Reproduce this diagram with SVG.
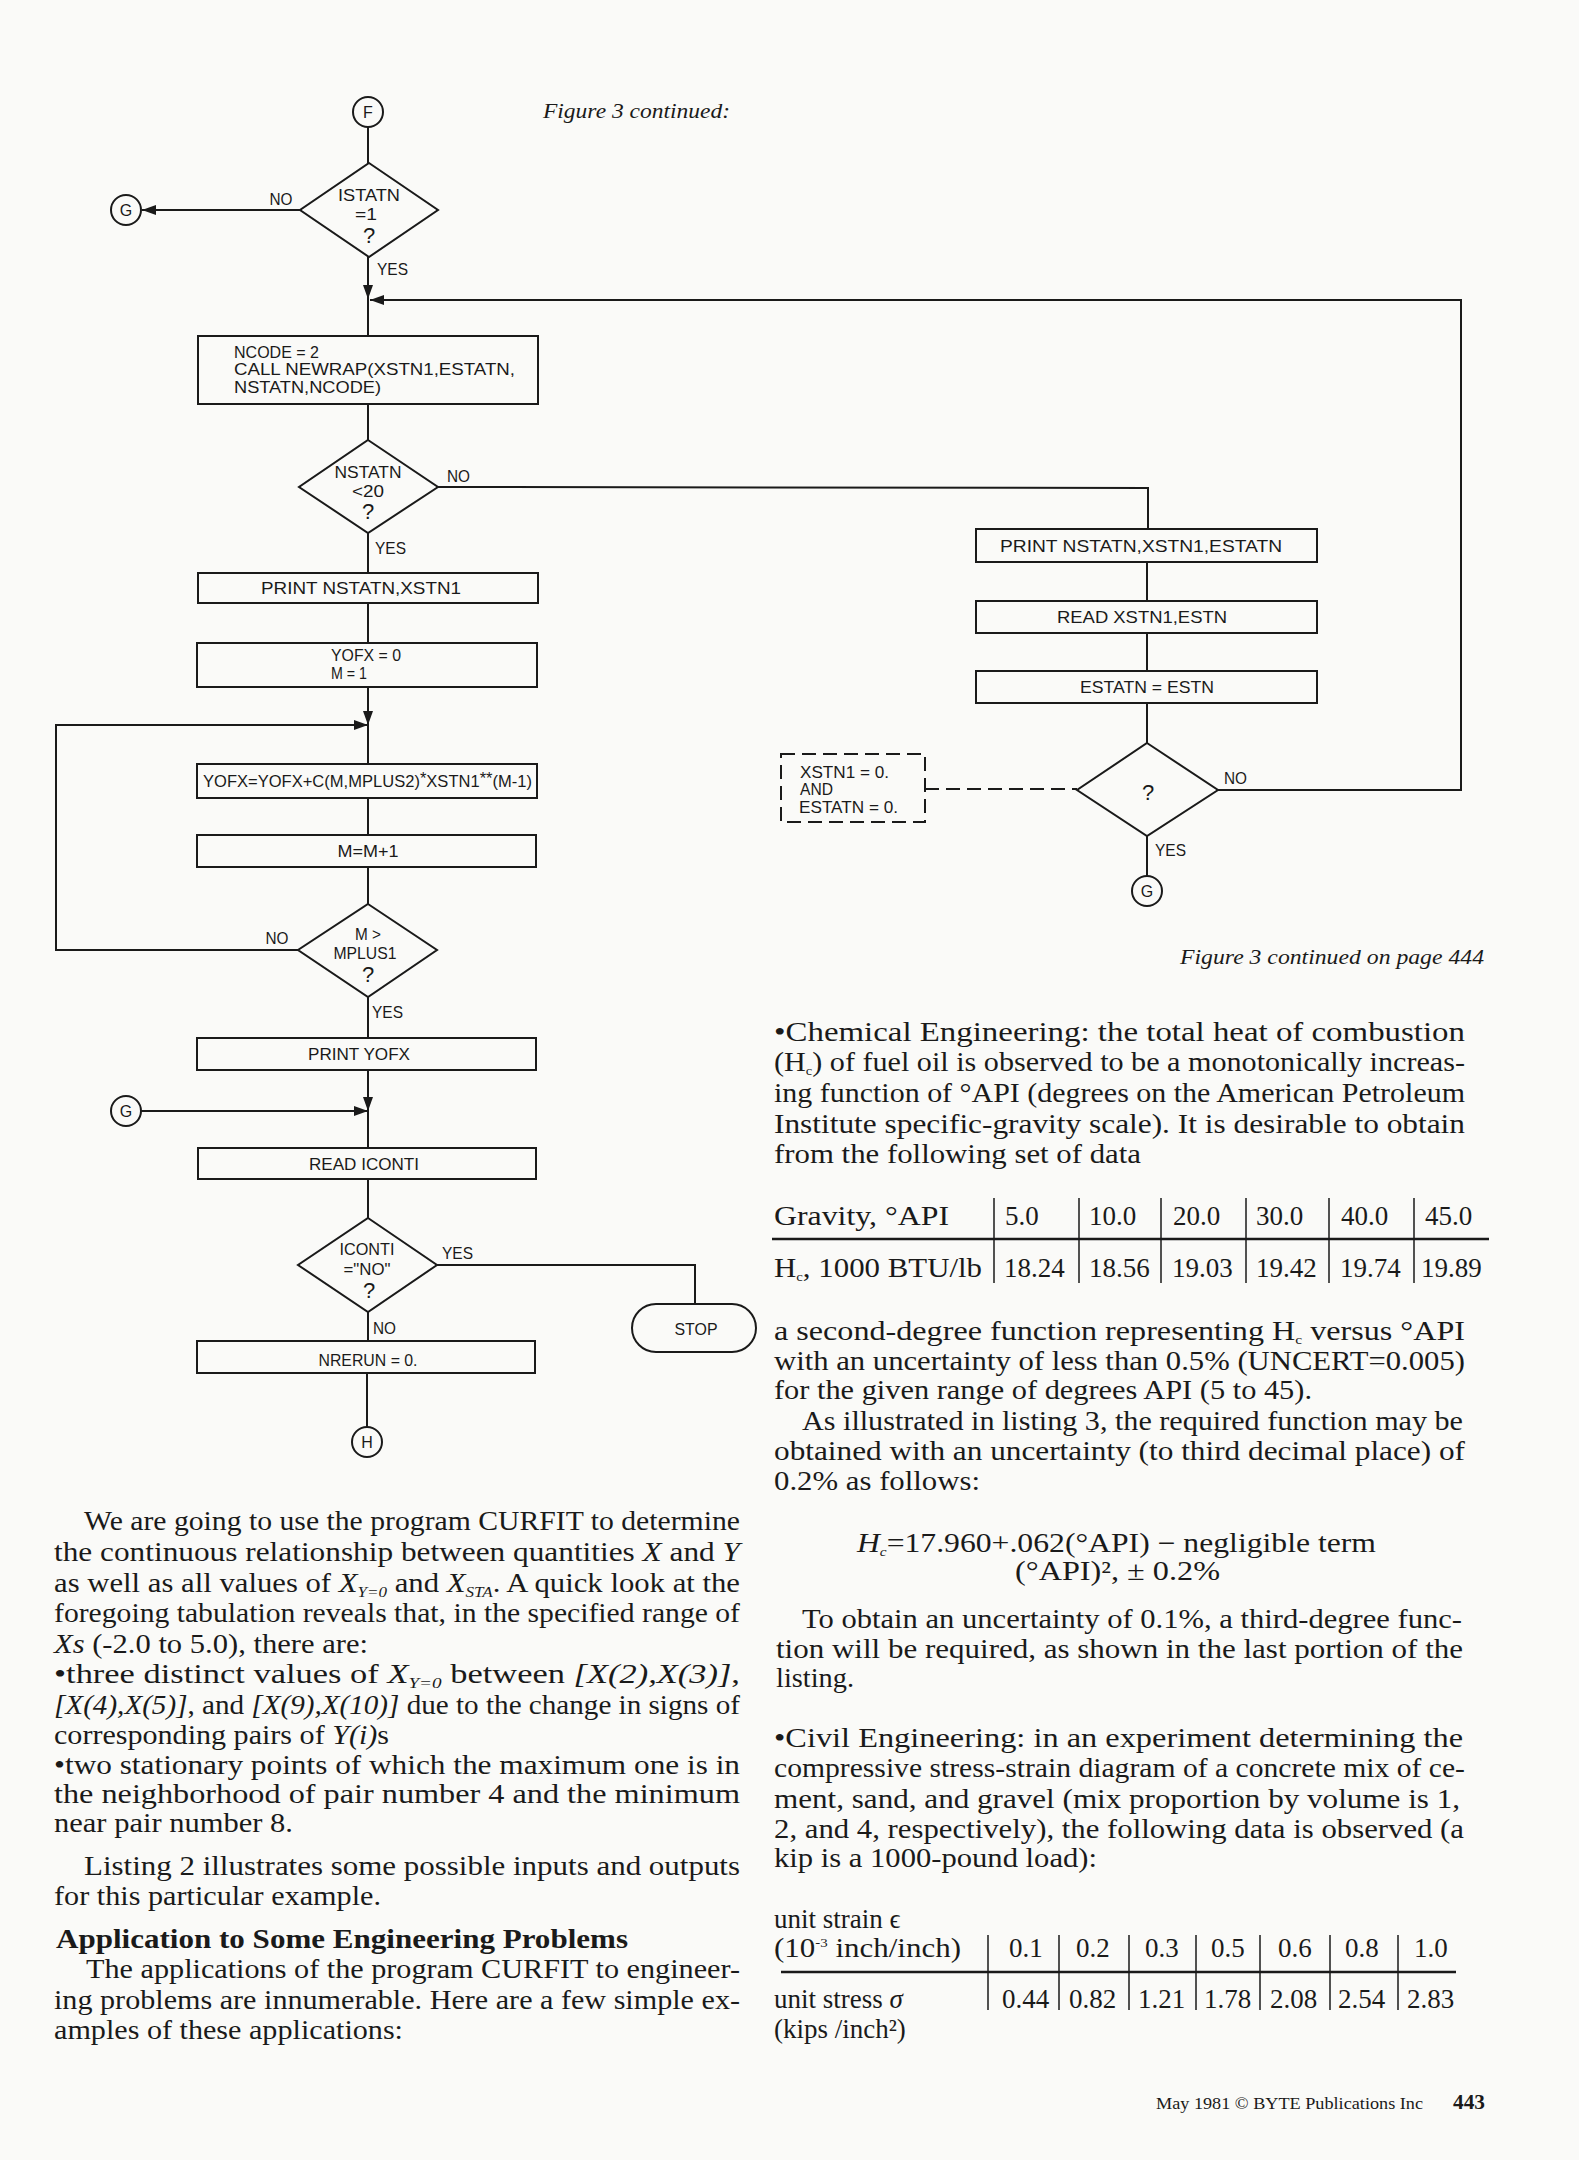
<svg xmlns="http://www.w3.org/2000/svg" width="1579" height="2160" viewBox="0 0 1579 2160">
<defs>
<style>
.fc{font-family:"Liberation Sans",Arial,sans-serif;font-size:17px;fill:#1a1a1a}
.q{font-family:"Liberation Sans",Arial,sans-serif;font-size:22px;fill:#1a1a1a;text-anchor:middle}
.cl{font-family:"Liberation Sans",Arial,sans-serif;font-size:16px;fill:#1a1a1a;text-anchor:middle}
.m{text-anchor:middle}
.ln{stroke:#1a1a1a;stroke-width:2;fill:none}
.bx{fill:none;stroke:#1a1a1a;stroke-width:2}
.b{font-family:"Liberation Serif","Times New Roman",serif;font-size:27px;fill:#1a1a1a}
.it{font-style:italic}
.cap{font-family:"Liberation Serif","Times New Roman",serif;font-style:italic;font-size:21px;fill:#1a1a1a}
</style>
<marker id="ah" viewBox="0 0 14 10" refX="14" refY="5" markerWidth="14" markerHeight="10" markerUnits="userSpaceOnUse" orient="auto"><path d="M0,0 L14,5 L0,10 z" fill="#1a1a1a"/></marker>
</defs>
<rect x="0" y="0" width="1579" height="2160" fill="#fafaf8"/>

<text class="cap" x="543" y="118" textLength="187" lengthAdjust="spacingAndGlyphs">Figure 3 continued:</text>
<text class="cap" x="1180" y="964" textLength="304" lengthAdjust="spacingAndGlyphs">Figure 3 continued on page 444</text>

<g id="connectors">
<line class="ln" x1="368" y1="127" x2="368" y2="163"/>
<line class="ln" x1="300" y1="210" x2="142" y2="210" marker-end="url(#ah)"/>
<line class="ln" x1="368" y1="257" x2="368" y2="299" marker-end="url(#ah)"/>
<polyline class="ln" points="1218,790 1461,790 1461,300 370,300" marker-end="url(#ah)"/>
<line class="ln" x1="368" y1="299" x2="368" y2="336"/>
<line class="ln" x1="368" y1="404" x2="368" y2="440"/>
<polyline class="ln" points="438,487 1148,488 1148,529"/>
<line class="ln" x1="368" y1="533" x2="368" y2="573"/>
<line class="ln" x1="368" y1="603" x2="368" y2="643"/>
<line class="ln" x1="368" y1="687" x2="368" y2="725" marker-end="url(#ah)"/>
<polyline class="ln" points="298,950 56,950 56,725 368,725" marker-end="url(#ah)"/>
<line class="ln" x1="368" y1="725" x2="368" y2="765"/>
<line class="ln" x1="368" y1="797" x2="368" y2="835"/>
<line class="ln" x1="368" y1="867" x2="368" y2="904"/>
<line class="ln" x1="368" y1="997" x2="368" y2="1038"/>
<line class="ln" x1="368" y1="1070" x2="368" y2="1111" marker-end="url(#ah)"/>
<line class="ln" x1="141" y1="1111" x2="368" y2="1111" marker-end="url(#ah)"/>
<line class="ln" x1="368" y1="1111" x2="368" y2="1148"/>
<line class="ln" x1="368" y1="1179" x2="368" y2="1218"/>
<polyline class="ln" points="437,1265 695,1265 695,1304"/>
<line class="ln" x1="368" y1="1312" x2="368" y2="1341"/>
<line class="ln" x1="367" y1="1373" x2="367" y2="1427"/>
<line class="ln" x1="1147" y1="562" x2="1147" y2="601"/>
<line class="ln" x1="1147" y1="633" x2="1147" y2="671"/>
<line class="ln" x1="1147" y1="703" x2="1147" y2="743"/>
<line class="ln" x1="1147" y1="836" x2="1147" y2="876"/>
<line class="ln" x1="925" y1="789" x2="1077" y2="789" stroke-dasharray="14 7"/>
</g>

<g id="labels">
<text class="fc m" x="281" y="205" textLength="23" lengthAdjust="spacingAndGlyphs">NO</text>
<text class="fc" x="377" y="275" textLength="31" lengthAdjust="spacingAndGlyphs">YES</text>
<text class="fc" x="447" y="482" textLength="23" lengthAdjust="spacingAndGlyphs">NO</text>
<text class="fc" x="375" y="554" textLength="31" lengthAdjust="spacingAndGlyphs">YES</text>
<text class="fc m" x="277" y="944" textLength="23" lengthAdjust="spacingAndGlyphs">NO</text>
<text class="fc" x="372" y="1018" textLength="31" lengthAdjust="spacingAndGlyphs">YES</text>
<text class="fc" x="442" y="1259" textLength="31" lengthAdjust="spacingAndGlyphs">YES</text>
<text class="fc" x="373" y="1334" textLength="23" lengthAdjust="spacingAndGlyphs">NO</text>
<text class="fc" x="1224" y="784" textLength="23" lengthAdjust="spacingAndGlyphs">NO</text>
<text class="fc" x="1155" y="856" textLength="31" lengthAdjust="spacingAndGlyphs">YES</text>
</g>

<g id="F"><circle class="bx" cx="368" cy="112" r="15"/><text class="cl" x="368" y="118">F</text></g>
<g id="istatn"><polygon class="bx" points="369,163 438,210 369,257 300,210"/>
<text class="fc m" x="369" y="201" textLength="62" lengthAdjust="spacingAndGlyphs">ISTATN</text>
<text class="fc m" x="366" y="220" textLength="22" lengthAdjust="spacingAndGlyphs">=1</text>
<text class="q" x="369" y="243">?</text></g>
<g id="G1"><circle class="bx" cx="126" cy="210" r="15"/><text class="cl" x="126" y="216">G</text></g>
<g id="ncode"><rect class="bx" x="198" y="336" width="340" height="68"/>
<text class="fc" x="234" y="358" textLength="85" lengthAdjust="spacingAndGlyphs">NCODE = 2</text>
<text class="fc" x="234" y="375" textLength="281" lengthAdjust="spacingAndGlyphs">CALL NEWRAP(XSTN1,ESTATN,</text>
<text class="fc" x="234" y="393" textLength="147" lengthAdjust="spacingAndGlyphs">NSTATN,NCODE)</text></g>
<g id="nstatn"><polygon class="bx" points="368,440 438,487 368,533 299,487"/>
<text class="fc m" x="368" y="478" textLength="67" lengthAdjust="spacingAndGlyphs">NSTATN</text>
<text class="fc m" x="368" y="497" textLength="32" lengthAdjust="spacingAndGlyphs">&lt;20</text>
<text class="q" x="368" y="519">?</text></g>
<g id="print1"><rect class="bx" x="198" y="573" width="340" height="30"/><text class="fc m" x="361" y="594" textLength="200" lengthAdjust="spacingAndGlyphs">PRINT NSTATN,XSTN1</text></g>
<g id="yofx0"><rect class="bx" x="197" y="643" width="340" height="44"/>
<text class="fc" x="331" y="661" textLength="70" lengthAdjust="spacingAndGlyphs">YOFX = 0</text>
<text class="fc" x="331" y="679" textLength="36" lengthAdjust="spacingAndGlyphs">M = 1</text></g>
<g id="yofxsum"><rect class="bx" x="197" y="764" width="340" height="34"/>
<text class="fc" x="203" y="787" dy="0 0 0 0 0 0 0 0 0 0 0 0 0 0 0 0 0 0 0 0 0 -3 3 0 0 0 0 -3 0 3" textLength="329" lengthAdjust="spacingAndGlyphs">YOFX=YOFX+C(M,MPLUS2)*XSTN1**(M-1)</text></g>
<g id="mplus"><rect class="bx" x="197" y="835" width="339" height="32"/><text class="fc m" x="368" y="857" textLength="61" lengthAdjust="spacingAndGlyphs">M=M+1</text></g>
<g id="mgt"><polygon class="bx" points="368,904 437,950 368,997 298,950"/>
<text class="fc m" x="368" y="940" textLength="26" lengthAdjust="spacingAndGlyphs">M &gt;</text>
<text class="fc m" x="365" y="959" textLength="63" lengthAdjust="spacingAndGlyphs">MPLUS1</text>
<text class="q" x="368" y="982">?</text></g>
<g id="printyofx"><rect class="bx" x="197" y="1038" width="339" height="32"/><text class="fc m" x="359" y="1060" textLength="102" lengthAdjust="spacingAndGlyphs">PRINT YOFX</text></g>
<g id="G2"><circle class="bx" cx="126" cy="1111" r="15"/><text class="cl" x="126" y="1117">G</text></g>
<g id="readiconti"><rect class="bx" x="198" y="1148" width="338" height="31"/><text class="fc m" x="364" y="1170" textLength="110" lengthAdjust="spacingAndGlyphs">READ ICONTI</text></g>
<g id="iconti"><polygon class="bx" points="368,1218 437,1265 368,1312 298,1265"/>
<text class="fc m" x="367" y="1255" textLength="55" lengthAdjust="spacingAndGlyphs">ICONTI</text>
<text class="fc m" x="367" y="1275" textLength="47" lengthAdjust="spacingAndGlyphs">="NO"</text>
<text class="q" x="369" y="1298">?</text></g>
<g id="stop"><rect class="bx" x="632" y="1304" width="124" height="48" rx="24" ry="24"/><text class="fc m" x="696" y="1335" textLength="43" lengthAdjust="spacingAndGlyphs">STOP</text></g>
<g id="nrerun"><rect class="bx" x="197" y="1341" width="338" height="32"/><text class="fc m" x="368" y="1366" textLength="99" lengthAdjust="spacingAndGlyphs">NRERUN = 0.</text></g>
<g id="H"><circle class="bx" cx="367" cy="1442" r="15"/><text class="cl" x="367" y="1448">H</text></g>

<g id="print3"><rect class="bx" x="976" y="529" width="341" height="33"/><text class="fc m" x="1141" y="552" textLength="282" lengthAdjust="spacingAndGlyphs">PRINT NSTATN,XSTN1,ESTATN</text></g>
<g id="readx"><rect class="bx" x="976" y="601" width="341" height="32"/><text class="fc m" x="1142" y="623" textLength="170" lengthAdjust="spacingAndGlyphs">READ XSTN1,ESTN</text></g>
<g id="estatn"><rect class="bx" x="976" y="671" width="341" height="32"/><text class="fc m" x="1147" y="693" textLength="134" lengthAdjust="spacingAndGlyphs">ESTATN = ESTN</text></g>
<g id="qdiamond"><polygon class="bx" points="1147,743 1218,790 1147,836 1077,790"/><text class="q" x="1148" y="800">?</text></g>
<g id="note"><rect class="bx" x="781" y="754" width="144" height="68" stroke-dasharray="14 7"/>
<text class="fc" x="800" y="778" textLength="89" lengthAdjust="spacingAndGlyphs">XSTN1 = 0.</text>
<text class="fc" x="800" y="795" textLength="33" lengthAdjust="spacingAndGlyphs">AND</text>
<text class="fc" x="799" y="813" textLength="99" lengthAdjust="spacingAndGlyphs">ESTATN = 0.</text></g>
<g id="G3"><circle class="bx" cx="1147" cy="891" r="15"/><text class="cl" x="1147" y="897">G</text></g>

<g id="leftcol" class="b">
<text x="84" y="1530" textLength="656" lengthAdjust="spacingAndGlyphs">We are going to use the program CURFIT to determine</text>
<text x="54" y="1561" textLength="686" lengthAdjust="spacingAndGlyphs">the continuous relationship between quantities <tspan class="it">X</tspan> and <tspan class="it">Y</tspan></text>
<text x="54" y="1592" textLength="686" lengthAdjust="spacingAndGlyphs">as well as all values of <tspan class="it">X</tspan><tspan class="it" font-size="15" dy="5">Y=0</tspan><tspan dy="-5"> and </tspan><tspan class="it">X</tspan><tspan class="it" font-size="15" dy="5">STA</tspan><tspan dy="-5">. A quick look at the</tspan></text>
<text x="54" y="1622" textLength="686" lengthAdjust="spacingAndGlyphs">foregoing tabulation reveals that, in the specified range of</text>
<text x="54" y="1653" textLength="314" lengthAdjust="spacingAndGlyphs"><tspan class="it">Xs</tspan> (-2.0 to 5.0), there are:</text>
<text x="54" y="1683" textLength="686" lengthAdjust="spacingAndGlyphs">•three distinct values of <tspan class="it">X</tspan><tspan class="it" font-size="15" dy="5">Y=0</tspan><tspan dy="-5"> between </tspan><tspan class="it">[X(2),X(3)]</tspan>,</text>
<text x="54" y="1714" textLength="686" lengthAdjust="spacingAndGlyphs"><tspan class="it">[X(4),X(5)]</tspan>, and <tspan class="it">[X(9),X(10)]</tspan> due to the change in signs of</text>
<text x="54" y="1744" textLength="335" lengthAdjust="spacingAndGlyphs">corresponding pairs of <tspan class="it">Y(i)</tspan>s</text>
<text x="54" y="1774" textLength="686" lengthAdjust="spacingAndGlyphs">•two stationary points of which the maximum one is in</text>
<text x="54" y="1803" textLength="686" lengthAdjust="spacingAndGlyphs">the neighborhood of pair number 4 and the minimum</text>
<text x="54" y="1832" textLength="239" lengthAdjust="spacingAndGlyphs">near pair number 8.</text>
<text x="84" y="1875" textLength="656" lengthAdjust="spacingAndGlyphs">Listing 2 illustrates some possible inputs and outputs</text>
<text x="54" y="1905" textLength="327" lengthAdjust="spacingAndGlyphs">for this particular example.</text>
<text x="56" y="1948" font-size="28" font-weight="bold" textLength="572" lengthAdjust="spacingAndGlyphs">Application to Some Engineering Problems</text>
<text x="86" y="1978" textLength="654" lengthAdjust="spacingAndGlyphs">The applications of the program CURFIT to engineer-</text>
<text x="54" y="2009" textLength="686" lengthAdjust="spacingAndGlyphs">ing problems are innumerable. Here are a few simple ex-</text>
<text x="54" y="2039" textLength="349" lengthAdjust="spacingAndGlyphs">amples of these applications:</text>
</g>

<g id="rightcol" class="b">
<text x="774" y="1041" textLength="691" lengthAdjust="spacingAndGlyphs">•Chemical Engineering: the total heat of combustion</text>
<text x="774" y="1071" textLength="691" lengthAdjust="spacingAndGlyphs">(H<tspan font-size="13" dy="4">c</tspan><tspan dy="-4">) of fuel oil is observed to be a monotonically increas-</tspan></text>
<text x="774" y="1102" textLength="691" lengthAdjust="spacingAndGlyphs">ing function of °API (degrees on the American Petroleum</text>
<text x="774" y="1133" textLength="691" lengthAdjust="spacingAndGlyphs">Institute specific-gravity scale). It is desirable to obtain</text>
<text x="774" y="1163" textLength="367" lengthAdjust="spacingAndGlyphs">from the following set of data</text>

<text x="774" y="1225" textLength="175" lengthAdjust="spacingAndGlyphs">Gravity, °API</text>
<text x="1005" y="1225">5.0</text><text x="1089" y="1225">10.0</text><text x="1173" y="1225">20.0</text><text x="1256" y="1225">30.0</text><text x="1341" y="1225">40.0</text><text x="1425" y="1225">45.0</text>
<text x="774" y="1277" textLength="208" lengthAdjust="spacingAndGlyphs">H<tspan font-size="13" dy="4">c</tspan><tspan dy="-4">, 1000 BTU/lb</tspan></text>
<text x="1004" y="1277">18.24</text><text x="1089" y="1277">18.56</text><text x="1172" y="1277">19.03</text><text x="1256" y="1277">19.42</text><text x="1340" y="1277">19.74</text><text x="1421" y="1277">19.89</text>

<text x="774" y="1340" textLength="691" lengthAdjust="spacingAndGlyphs">a second-degree function representing H<tspan font-size="13" dy="4">c</tspan><tspan dy="-4"> versus °API</tspan></text>
<text x="774" y="1370" textLength="691" lengthAdjust="spacingAndGlyphs">with an uncertainty of less than 0.5% (UNCERT=0.005)</text>
<text x="774" y="1399" textLength="538" lengthAdjust="spacingAndGlyphs">for the given range of degrees API (5 to 45).</text>
<text x="802" y="1430" textLength="661" lengthAdjust="spacingAndGlyphs">As illustrated in listing 3, the required function may be</text>
<text x="774" y="1460" textLength="691" lengthAdjust="spacingAndGlyphs">obtained with an uncertainty (to third decimal place) of</text>
<text x="774" y="1490" textLength="206" lengthAdjust="spacingAndGlyphs">0.2% as follows:</text>
<text x="857" y="1552" textLength="519" lengthAdjust="spacingAndGlyphs"><tspan class="it">H</tspan><tspan class="it" font-size="13" dy="4">c</tspan><tspan dy="-4">=17.960+.062(°API) − negligible term</tspan></text>
<text x="1015" y="1580" textLength="205" lengthAdjust="spacingAndGlyphs">(°API)²,  ± 0.2%</text>
<text x="802" y="1628" textLength="660" lengthAdjust="spacingAndGlyphs">To obtain an uncertainty of 0.1%, a third-degree func-</text>
<text x="776" y="1658" textLength="687" lengthAdjust="spacingAndGlyphs">tion will be required, as shown in the last portion of the</text>
<text x="776" y="1687" textLength="78" lengthAdjust="spacingAndGlyphs">listing.</text>
<text x="774" y="1747" textLength="689" lengthAdjust="spacingAndGlyphs">•Civil Engineering: in an experiment determining the</text>
<text x="774" y="1777" textLength="691" lengthAdjust="spacingAndGlyphs">compressive stress-strain diagram of a concrete mix of ce-</text>
<text x="774" y="1808" textLength="686" lengthAdjust="spacingAndGlyphs">ment, sand, and gravel (mix proportion by volume is 1,</text>
<text x="774" y="1838" textLength="690" lengthAdjust="spacingAndGlyphs">2, and 4, respectively), the following data is observed (a</text>
<text x="774" y="1867" textLength="323" lengthAdjust="spacingAndGlyphs">kip is a 1000-pound load):</text>

<text x="774" y="1928">unit strain ϵ</text>
<text x="774" y="1957" textLength="187" lengthAdjust="spacingAndGlyphs">(10<tspan font-size="13" dy="-10">-3</tspan><tspan dy="10"> inch/inch)</tspan></text>
<text x="1009" y="1957">0.1</text><text x="1076" y="1957">0.2</text><text x="1145" y="1957">0.3</text><text x="1211" y="1957">0.5</text><text x="1278" y="1957">0.6</text><text x="1345" y="1957">0.8</text><text x="1414" y="1957">1.0</text>
<text x="774" y="2008">unit stress <tspan class="it">σ</tspan></text>
<text x="774" y="2038">(kips /inch²)</text>
<text x="1002" y="2008">0.44</text><text x="1069" y="2008">0.82</text><text x="1138" y="2008">1.21</text><text x="1204" y="2008">1.78</text><text x="1270" y="2008">2.08</text><text x="1338" y="2008">2.54</text><text x="1407" y="2008">2.83</text>

<text x="1156" y="2109" font-size="17" textLength="267" lengthAdjust="spacingAndGlyphs">May 1981 © BYTE Publications Inc</text>
<text x="1453" y="2109" font-size="20" font-weight="bold" textLength="32" lengthAdjust="spacingAndGlyphs">443</text>
</g>

<g id="tablelines" stroke="#1a1a1a" fill="none">
<line x1="772" y1="1239" x2="1489" y2="1239" stroke-width="2.5"/>
<line x1="994" y1="1198" x2="994" y2="1283" stroke-width="1.5"/>
<line x1="1079" y1="1198" x2="1079" y2="1283" stroke-width="1.5"/>
<line x1="1161" y1="1198" x2="1161" y2="1283" stroke-width="1.5"/>
<line x1="1246" y1="1198" x2="1246" y2="1283" stroke-width="1.5"/>
<line x1="1329" y1="1198" x2="1329" y2="1283" stroke-width="1.5"/>
<line x1="1414" y1="1198" x2="1414" y2="1283" stroke-width="1.5"/>
<line x1="781" y1="1972" x2="1456" y2="1972" stroke-width="2.5"/>
<line x1="988" y1="1935" x2="988" y2="2010" stroke-width="1.5"/>
<line x1="1059" y1="1935" x2="1059" y2="2010" stroke-width="1.5"/>
<line x1="1129" y1="1935" x2="1129" y2="2010" stroke-width="1.5"/>
<line x1="1196" y1="1935" x2="1196" y2="2010" stroke-width="1.5"/>
<line x1="1260" y1="1935" x2="1260" y2="2010" stroke-width="1.5"/>
<line x1="1330" y1="1935" x2="1330" y2="2010" stroke-width="1.5"/>
<line x1="1398" y1="1935" x2="1398" y2="2010" stroke-width="1.5"/>
</g>
</svg>
